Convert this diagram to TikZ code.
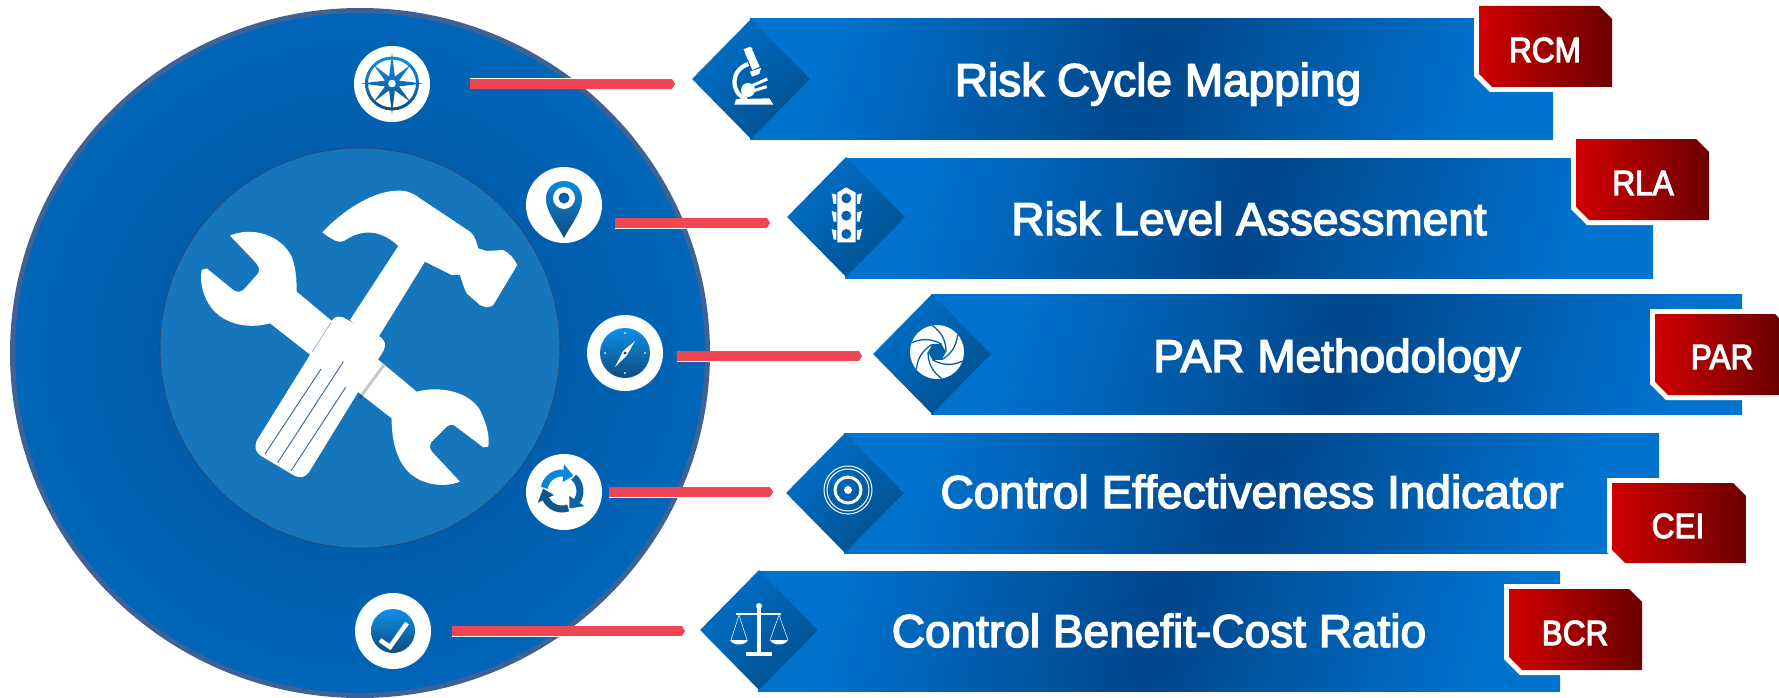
\documentclass[tikz,border=0pt]{standalone}
\usepackage{fontspec}
\usetikzlibrary{shapes.geometric,arrows.meta}
\newfontfamily\lblfont[FakeBold=3.2]{Liberation Sans}
\newfontfamily\tagfont[FakeBold=3.2,FakeStretch=0.9]{Liberation Sans}
\definecolor{bannerlight}{HTML}{0073CF}
\definecolor{bannerdark}{HTML}{00468A}
\definecolor{diamlight}{HTML}{0070C8}
\definecolor{diamdark}{HTML}{00508F}
\definecolor{taglight}{HTML}{D00000}
\definecolor{tagdark}{HTML}{6B0000}
\definecolor{ringcol}{HTML}{3E6296}
\definecolor{discin}{HTML}{00529C}
\definecolor{discout}{HTML}{0066B8}
\definecolor{hubcol}{HTML}{1676BB}
\definecolor{conncol}{HTML}{F04552}
\definecolor{iconhi}{HTML}{0C90EA}
\definecolor{iconlo}{HTML}{0F4C7C}
\definecolor{holecol}{HTML}{0060A8}
\tikzset{
  x=1pt,y=-1pt,
  disc/.style={ellipse,inner sep=0pt,draw=ringcol,line width=5pt,inner color=discin,outer color=discout,minimum width=695pt,minimum height=685pt},
  hub/.style={circle,inner sep=0pt,fill=hubcol,draw=ringcol!70!black,line width=.6pt,minimum size=400pt},
  iconbg/.style={circle,inner sep=0pt,fill=white,minimum size=76pt},
  bannerbox/.style={rectangle,inner sep=0pt,anchor=west,minimum height=120pt,left color=bannerlight,right color=bannerlight,middle color=bannerdark,shading angle=75},
  diam/.style={diamond,shape aspect=1,inner sep=0pt,minimum width=118pt,minimum height=120pt,top color=diamlight,bottom color=diamdark,shading angle=45},
  label/.style={text=white,font=\lblfont\fontsize{46}{50}\selectfont,inner sep=0pt,anchor=base},
  taglabel/.style={text=white,font=\tagfont\fontsize{35}{38}\selectfont,inner sep=0pt,anchor=base},
  tagshape/.style={left color=taglight,right color=tagdark},
  taghalo/.style={fill=white,draw=white,line width=10pt,miter limit=10,line join=miter},
  connhalo/.style={white,line width=11pt,-{Triangle[length=3.5pt,width=11pt]}},
  connbar/.style={conncol,line width=9.5pt,-{Triangle[length=3pt,width=9.5pt]}},
  iconshade/.style={top color=iconhi,bottom color=iconlo},
}
\newcommand{\tagbox}[5]{% left top right bottom chamfer
  \path[taghalo] (#1,#2) -- (#3,#2) -- (#3,#4) -- ({#1+13},#4) -- (#1,{#4-13}) -- cycle;
  \path[tagshape] (#1,#2) -- ({#3-#5},#2) -- (#3,{#2+#5}) -- (#3,#4) -- ({#1+13},#4) -- (#1,{#4-13}) -- cycle;
}
\newcommand{\connector}[2]{%
  \draw[connhalo] (#1) -- (#2);
  \draw[connbar] (#1) -- (#2);
}
\newcommand{\turnarrow}[2]{% start angle, colour
  \draw[#2,line width=7pt] (#1:18pt) arc[start angle=#1,delta angle=-85,radius=18pt];
  \fill[#2] ({#1-84}:9pt) -- ({#1-84}:27pt) -- ({#1-117}:19pt) -- cycle;
}
\begin{document}
\begin{tikzpicture}
\useasboundingbox (0,0) rectangle (1779,698);
% disc and hub
\node[disc] (disc) at (360,353) {};
\node[hub] (hub) at (360,348) {};
% tools
\begin{scope}[shift={(150,170)},x=0.3333pt,y=-0.3333pt]
  \fill[white] (240,197) .. controls (300,170) and (390,190) .. (425,260) .. controls (440,300) and (440,340) .. (440,365) -- (800,665) .. controls (880,645) and (960,670) .. (990,720) .. controls (1010,760) and (1020,800) .. (1015,830) -- (1000,832) -- (915,768) .. controls (905,760) and (895,765) .. (885,775) -- (845,815) .. controls (835,830) and (840,840) .. (855,855) -- (930,935) .. controls (880,955) and (810,945) .. (770,900) .. controls (735,860) and (725,800) .. (725,745) -- (360,460) .. controls (290,480) and (210,460) .. (175,400) .. controls (155,365) and (150,330) .. (155,300) -- (170,295) -- (250,360) .. controls (265,370) and (275,365) .. (285,355) -- (320,315) .. controls (335,300) and (325,285) .. (310,270) -- cycle;
  \draw[black,opacity=.22,line width=3pt] (702,585) -- (628,685);
  \fill[white] (517,187) .. controls (570,130) and (660,65) .. (740,62) .. controls (770,60) and (790,70) .. (810,85) -- (960,185) .. controls (975,195) and (980,220) .. (985,235) -- (1010,243) -- (1060,240) .. controls (1080,250) and (1095,270) .. (1102,285) -- (1030,405) .. controls (1015,415) and (1005,412) .. (990,405) -- (950,370) .. controls (940,350) and (935,330) .. (930,315) -- (905,315) -- (825,275) -- (680,510) -- (600,450) -- (745,228) .. controls (705,190) and (650,170) .. (590,208) .. controls (570,222) and (555,215) .. (517,187) -- cycle;
  \fill[white,rounded corners=5pt] (565,435) -- (700,505) -- (708,530) -- (470,918) -- (445,924) -- (320,850) -- (314,822) -- (545,450) -- cycle;
  \draw[ringcol,line width=.9pt] (345,852) -- (513,597) (383,878) -- (580,575) (423,903) -- (587,652);
  \draw[ringcol!70,line width=.5pt] (487,545) -- (543,458);
\end{scope}
% icon circles
\node[iconbg] (i1) at (392,84) {};
\node[iconbg] (i2) at (564,205) {};
\node[iconbg] (i3) at (625,353) {};
\node[iconbg] (i4) at (564,492) {};
\node[iconbg] (i5) at (393,631) {};
% compass rose
\begin{scope}[shift={(392,83.5)}]
  \shade[iconshade,even odd rule] (0,0) circle (27pt) (0,0) circle (24pt);
  \shade[iconshade] (0:31pt) -- (22.5:7.5pt) -- (45:26pt) -- (67.5:7.5pt) -- (90:31pt) -- (112.5:7.5pt) -- (135:26pt) -- (157.5:7.5pt) -- (180:31pt) -- (202.5:7.5pt) -- (225:26pt) -- (247.5:7.5pt) -- (270:31pt) -- (292.5:7.5pt) -- (315:26pt) -- (337.5:7.5pt) -- cycle;
  \fill[white] (0,0) circle (3.8pt);
\end{scope}
% pin
\shade[iconshade] (546,199) .. controls (546,175) and (582,175) .. (582,199) .. controls (582,212) and (570,226) .. (564,238) .. controls (558,226) and (546,212) .. (546,199) -- cycle;
\fill[white] (564,198) circle (11pt);
\fill[holecol] (564,198) circle (5.5pt);
% safari compass
\begin{scope}[shift={(625,353)}]
  \shade[iconshade] (0,0) circle (25pt);
  \fill[white] (10,-12) -- (2,2) -- (-10,14) -- (-2,-2) -- cycle;
  \fill[iconlo] (0,0) circle (1.7pt);
  \foreach \a in {0,90,180,270} \fill[white!80!iconhi] (\a:20pt) circle (1.2pt);
\end{scope}
% recycle arrows
\begin{scope}[shift={(562,491)}]
  \turnarrow{170}{iconhi!85!iconlo}
  \turnarrow{50}{iconhi!35!iconlo}
  \turnarrow{290}{iconhi!15!iconlo}
\end{scope}
% check
\shade[iconshade] (393,631) circle (22pt);
\draw[white,line width=4.5pt] (380,640) -- (390,647) -- (407,623);
% banners (bar, diamond, tag, labels)
\node[bannerbox,minimum width=803pt] (b1) at (750,79) {};
\node[bannerbox,minimum width=808pt] (b2) at (845,218) {};
\node[bannerbox,minimum width=811pt] (b3) at (931,354) {};
\node[bannerbox,minimum width=815pt] (b4) at (844,493) {};
\node[bannerbox,minimum width=802pt] (b5) at (758,631) {};
\node[diam] (d1) at (751,79) {};
\node[diam] (d2) at (846,217) {};
\node[diam] (d3) at (932,354) {};
\node[diam] (d4) at (845,493) {};
\node[diam] (d5) at (759,630) {};
\tagbox{1479}{6}{1612}{87}{13}
\tagbox{1576}{139}{1709}{220}{13}
\tagbox{1655}{314}{1779}{395}{4}
\tagbox{1612}{483}{1746}{563}{13}
\tagbox{1509}{589}{1642}{670}{13}
\node[label] (t1) at (1158,96) {Risk Cycle Mapping};
\node[label] (t2) at (1249,235) {Risk Level Assessment};
\node[label] (t3) at (1337,372) {PAR Methodology};
\node[label] (t4) at (1252,508) {Control Effectiveness Indicator};
\node[label] (t5) at (1159,647) {Control Benefit-Cost Ratio};
\node[taglabel] (g1) at (1545,62) {RCM};
\node[taglabel] (g2) at (1643,195) {RLA};
\node[taglabel] (g3) at (1722,369) {PAR};
\node[taglabel] (g4) at (1678,538) {CEI};
\node[taglabel] (g5) at (1575,645) {BCR};
% connectors
\coordinate (c1a) at (470,84); \coordinate (c1b) at (675,84);
\coordinate (c2a) at (615,223); \coordinate (c2b) at (770,223);
\coordinate (c3a) at (677,356); \coordinate (c3b) at (862,356);
\coordinate (c4a) at (609,492); \coordinate (c4b) at (773,492);
\coordinate (c5a) at (452,631); \coordinate (c5b) at (685,631);
\connector{c1a}{c1b}
\connector{c2a}{c2b}
\connector{c3a}{c3b}
\connector{c4a}{c4b}
\connector{c5a}{c5b}
% microscope and traffic light
\begin{scope}[shift={(680,0)},x=0.3333pt,y=-0.3333pt]
  \fill[white] (163,314) -- (168,298) -- (185,297) -- (268,295) -- (280,314) -- cycle;
  \draw[white,line width=4.2pt] (205,192) .. controls (150,210) and (150,280) .. (200,298);
  \draw[white,line width=8pt] (204,150) -- (228,205);
  \fill[white] (190,148) -- (210,140) -- (218,146) -- (196,156) -- cycle;
  \draw[white,line width=3pt] (205,262) -- (262,237);
  \draw[white,line width=3pt] (222,272) -- (260,260);
  \fill[white] (204,270) circle (7pt);
  \fill[white] (210,215) -- (243,204) -- (238,222) -- (216,230) -- cycle;
  \fill[white] (472,578) -- (498,562) -- (527,578) -- (527,727) -- (472,727) -- cycle;
  \fill[holecol] (499,595) circle (5pt) (499,647) circle (5pt) (499,702) circle (5pt);
  \fill[white] (455,580) -- (469,584) -- (469,612) -- (461,612) -- cycle
               (455,633) -- (469,637) -- (469,665) -- (461,665) -- cycle
               (455,687) -- (469,691) -- (469,719) -- (461,719) -- cycle
               (546,580) -- (531,584) -- (531,612) -- (539,612) -- cycle
               (546,633) -- (531,637) -- (531,665) -- (539,665) -- cycle
               (546,687) -- (531,691) -- (531,719) -- (539,719) -- cycle;
\end{scope}
% aperture
\begin{scope}[shift={(937,352)}]
  \fill[white] (0,0) circle (27pt);
  \fill[holecol] (0:9pt) -- (60:9pt) -- (120:9pt) -- (180:9pt) -- (240:9pt) -- (300:9pt) -- cycle;
  \foreach \a in {0,60,120,180,240,300}
    \draw[holecol,line width=1.3pt] (\a:9pt) .. controls (\a+50:14pt) and (\a+75:20pt) .. (\a+100:27pt);
\end{scope}
% target
\begin{scope}[shift={(848,490)}]
  \draw[white,line width=1pt] (0,0) circle (24pt) (0,0) circle (21pt);
  \draw[white,line width=3pt] (0,0) circle (13pt);
  \fill[white] (0,0) circle (4pt);
\end{scope}
% scales
\begin{scope}
  \fill[white] (759,606) circle (3pt);
  \fill[white] (757,607) -- (761,607) -- (761,652) -- (757,652) -- cycle;
  \fill[white] (746,652) rectangle (772,656);
  \draw[white,line width=1.6pt] (736,614) -- (781,614);
  \draw[white,line width=.5pt] (731,640) -- (739,615) -- (747,640) (770,640) -- (779,615) -- (788,640);
  \fill[white] (730,640) .. controls (733,646) and (745,646) .. (748,640) -- cycle;
  \fill[white] (770,640) .. controls (773,646) and (785,646) .. (788,640) -- cycle;
\end{scope}
\end{tikzpicture}
\end{document}
